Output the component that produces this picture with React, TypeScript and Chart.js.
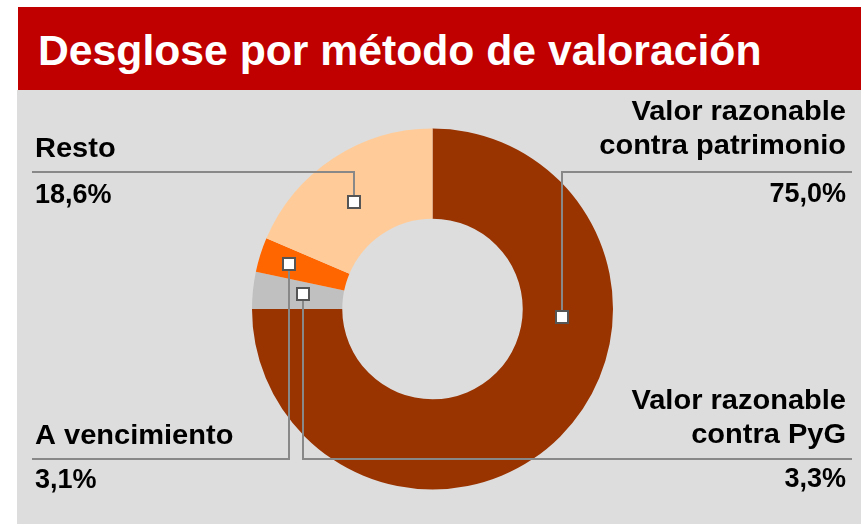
import React, { useEffect, useRef } from 'react';
import { Chart, registerables } from 'chart.js';

Chart.register(...registerables);

const title = 'Desglose por método de valoración';
const categories = [
  'Valor razonable contra patrimonio',
  'Valor razonable contra PyG',
  'A vencimiento',
  'Resto',
];
const labelLines = [
  ['Valor razonable', 'contra patrimonio'],
  ['Valor razonable', 'contra PyG'],
  ['A vencimiento'],
  ['Resto'],
];
const values = [75.0, 3.3, 3.1, 18.6];
const colors = ['#993300', '#C0C0C0', '#FF6600', '#FFCC99'];

// callout layout (canvas px) and anchor position inside each slice
const calloutLayout = [
  { side: 'right', lineY: 82, nameBaseline: 64, pctBaseline: 112, t: 0.346, f: 0.44 },
  { side: 'right', lineY: 369, nameBaseline: 353, pctBaseline: 397, t: 0.56, f: 0.44 },
  { side: 'left', lineY: 369, nameBaseline: 354, pctBaseline: 398, t: 0.5, f: 0.67 },
  { side: 'left', lineY: 82, nameBaseline: 67, pctBaseline: 113, t: 0.46, f: 0.47 },
];

const fmt = (v: number) => v.toFixed(1).replace('.', ',') + '%';

const calloutPlugin = {
  id: 'callouts',
  afterDatasetsDraw(chart: any) {
    const ctx = chart.ctx as CanvasRenderingContext2D;
    const meta = chart.getDatasetMeta(0);
    const leftX = 15;
    const rightX = 835;
    const textLeft = 18;
    const textRight = 829;
    const lh = 34;
    const sx = 1.075;
    ctx.save();
    meta.data.forEach((arc: any, i: number) => {
      const L = calloutLayout[i];
      const p = arc.getProps(['x', 'y', 'startAngle', 'endAngle', 'innerRadius', 'outerRadius'], true);
      const a = p.startAngle + L.t * (p.endAngle - p.startAngle);
      const r = p.innerRadius + L.f * (p.outerRadius - p.innerRadius);
      const ax = Math.round(p.x + r * Math.cos(a));
      const ay = Math.round(p.y + r * Math.sin(a));
      ctx.strokeStyle = '#888888';
      ctx.lineWidth = 2;
      ctx.beginPath();
      ctx.moveTo(L.side === 'left' ? leftX : rightX, L.lineY);
      ctx.lineTo(ax, L.lineY);
      ctx.lineTo(ax, ay);
      ctx.stroke();
      ctx.fillStyle = '#ffffff';
      ctx.fillRect(ax - 6, ay - 6, 12, 12);
      ctx.strokeStyle = '#555555';
      ctx.lineWidth = 2;
      ctx.strokeRect(ax - 6, ay - 6, 12, 12);

      ctx.fillStyle = '#000000';
      ctx.font = 'bold 27px "Liberation Sans", Arial, sans-serif';
      ctx.textAlign = L.side === 'left' ? 'left' : 'right';
      ctx.textBaseline = 'alphabetic';
      const tx = L.side === 'left' ? textLeft : textRight;
      const lines = labelLines[i];
      lines.forEach((s, j) => {
        ctx.save();
        ctx.translate(tx, L.nameBaseline - (lines.length - 1 - j) * lh);
        ctx.scale(sx, 1);
        ctx.fillText(s, 0, 0);
        ctx.restore();
      });
      ctx.fillText(fmt(values[i]), tx, L.pctBaseline);
    });
    ctx.restore();
  },
};

export default function App() {
  const ref = useRef<HTMLCanvasElement>(null);
  useEffect(() => {
    if (!ref.current) return;
    const chart = new Chart(ref.current, {
      type: 'doughnut',
      data: {
        labels: categories,
        datasets: [
          {
            data: values,
            backgroundColor: colors,
            borderWidth: 0,
            hoverOffset: 0,
          },
        ],
      },
      options: {
        responsive: false,
        animation: false,
        devicePixelRatio: 1,
        cutout: '50%',
        rotation: 0,
        layout: { padding: { left: 235, right: 248, top: 38.5, bottom: 34.5 } },
        plugins: {
          legend: { display: false },
          tooltip: { enabled: false },
          title: { display: false },
        },
        events: [],
      },
      plugins: [calloutPlugin],
    });
    return () => chart.destroy();
  }, []);

  return (
    <div style={{ position: 'fixed', left: 0, top: 0, width: 861, height: 526, background: '#ffffff', overflow: 'hidden' }}>
      <div style={{ position: 'absolute', left: 18, top: 7, width: 843, height: 83, background: '#C00000' }}>
        <span
          style={{
            position: 'absolute',
            left: 20,
            top: 21.8,
            fontFamily: '"Liberation Sans", Arial, sans-serif',
            fontWeight: 'bold',
            fontSize: 42.7,
            lineHeight: 1,
            color: '#ffffff',
            whiteSpace: 'nowrap',
          }}
        >
          {title}
        </span>
      </div>
      <div style={{ position: 'absolute', left: 17, top: 90, width: 844, height: 434, background: '#DDDDDD' }}>
        <canvas ref={ref} width={844} height={434} style={{ display: 'block', width: 844, height: 434 }} />
      </div>
    </div>
  );
}
